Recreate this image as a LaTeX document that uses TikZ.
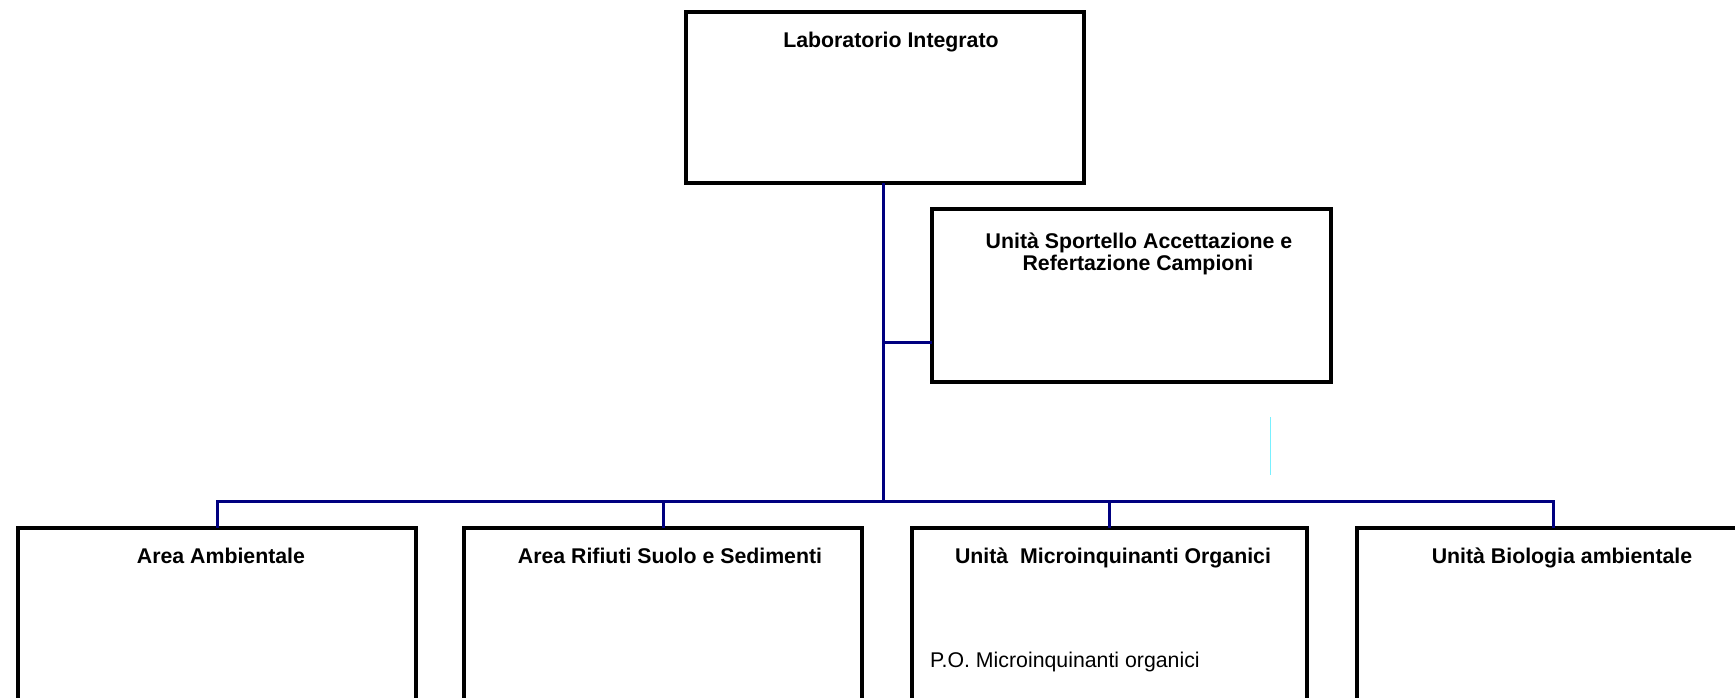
\documentclass[tikz,border=0pt]{standalone}
\usepackage{fontspec}
\setmainfont{Liberation Sans}
\definecolor{linkblue}{RGB}{0,0,128}
\definecolor{strayc}{RGB}{120,240,255}
\begin{document}
\begin{tikzpicture}[x=1pt,y=-1pt,
  box/.style={draw=black,line width=3.2pt,rectangle,inner sep=0pt,outer sep=0pt,anchor=north west},
  conn/.style={draw=linkblue,line width=3pt},
  title/.style={font=\bfseries\fontsize{21.3}{22}\selectfont,inner sep=0pt,anchor=base},
  body/.style={font=\fontsize{21.3}{22}\selectfont,inner sep=0pt,anchor=base west}]
\useasboundingbox (0,0) rectangle (1735,698);
\clip (0,0) rectangle (1735,698);
% boxes
\node[box,minimum width=398pt,minimum height=171pt] (top) at (686,12) {};
\node[box,minimum width=399pt,minimum height=173pt] (side) at (932,209) {};
\node[box,minimum width=398pt,minimum height=212pt] (b1) at (18,528) {};
\node[box,minimum width=398pt,minimum height=212pt] (b2) at (464,528) {};
\node[box,minimum width=395pt,minimum height=212pt] (b3) at (912,528) {};
\node[box,minimum width=393pt,minimum height=212pt] (b4) at (1357,528) {};
% connectors
\coordinate (bus) at (883,501);
\coordinate (sj) at (883,342);
\draw[conn] (top.south -| bus) -- (bus);
\draw[conn] (sj) -- (sj -| side.west);
\draw[conn] (b1.north) |- (bus) -| (b4.north);
\draw[conn] (b2.north) -- (b2.north |- bus);
\draw[conn] (b3.north) -- (b3.north |- bus);
% stray line
\draw[strayc,line width=1pt] (1270,417) -- (1270,475);
% texts
\node[title] (tTop) at (891,48) {Laboratorio Integrato};
\node[title] (tSide1) at (1139,248) {Unità Sportello Accettazione e};
\node[title] (tSide2) at (1138,270) {Refertazione Campioni};
\node[title] (t1) at (221,563) {Area Ambientale};
\node[title] (t2) at (670,563) {Area Rifiuti Suolo e Sedimenti};
\node[title] (t3) at (1113,563) {Unità~~Microinquinanti Organici};
\node[title] (t4) at (1562,563) {Unità Biologia ambientale};
\node[body] (po) at (930,667) {P.O. Microinquinanti organici};
\end{tikzpicture}
\end{document}
